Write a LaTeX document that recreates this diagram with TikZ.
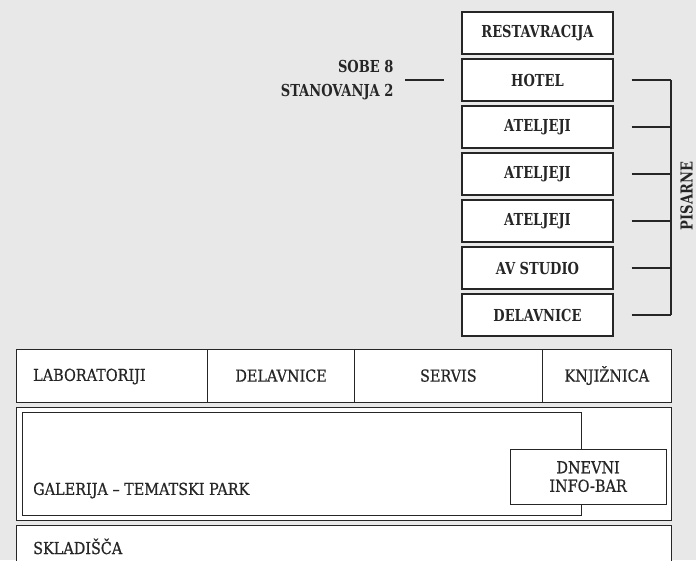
\documentclass[tikz,border=0pt]{standalone}
\usepackage{fontspec}
\setmainfont[FakeStretch=0.88]{DejaVu Serif Condensed}
\newfontfamily\lowfont[FakeStretch=0.97, FakeBold=0.6]{DejaVu Serif Condensed}
\begin{document}
\begin{tikzpicture}[x=1pt,y=-1pt,
  every node/.style={font=\lowfont\fontsize{16.5}{18}\selectfont, text=black!85},
  box/.style={draw=black!85, line width=1.2pt, fill=white, inner sep=0pt},
  topbox/.style={box, minimum width=151pt, minimum height=42pt, font=\fontsize{16.5}{18}\selectfont\bfseries},
  leader/.style={draw=black!85, line width=1.1pt}]
\useasboundingbox (0,0) rectangle (696,560);
\fill[gray!18] (0,0) rectangle (696,560);
\clip (0,0) rectangle (696,560);
% top column
\node[topbox] (rest) at (537.5,33) {RESTAVRACIJA};
\node[topbox] (hotel) at (537.5,80) {HOTEL};
\node[topbox] (at1) at (537.5,127) {ATELJEJI};
\node[topbox] (at2) at (537.5,174) {ATELJEJI};
\node[topbox] (at3) at (537.5,221) {ATELJEJI};
\node[topbox] (av) at (537.5,268) {AV STUDIO};
\node[topbox] (del1) at (537.5,315) {DELAVNICE};
% left label
\node[font=\fontsize{16.5}{23.5}\selectfont\bfseries, align=right, anchor=east] (sobe) at (397,80) {SOBE 8\\STANOVANJA 2};
\coordinate (sl) at (405,80);
\draw[leader] (sl) -- ([xshift=-17pt]hotel.west);
% right bracket
\coordinate (br) at (671,80);
\coordinate (bb) at (671,315);
\foreach \n in {hotel,at1,at2,at3,av,del1}{
  \draw[leader] ([xshift=18pt]\n.east) -- (\n.east -| br);
}
\draw[leader] (br) -- (bb);
\node[rotate=90, inner sep=0pt, font=\fontsize{16.5}{18}\selectfont\bfseries] (pis) at (686.5,196) {PISARNE};
% row 1
\node[box, anchor=north west, minimum width=191pt, minimum height=53pt] (lab) at (16,348.5) {};
\node[anchor=west, inner xsep=0pt] (labt) at (33,376.5) {LABORATORIJI};
\node[box, anchor=north west, minimum width=147pt, minimum height=53pt] (del2) at (207,348.5) {DELAVNICE};
\node[box, anchor=north west, minimum width=187.5pt, minimum height=53pt] (serv) at (354,348.5) {SERVIS};
\node[box, anchor=north west, minimum width=129.5pt, minimum height=53pt] (knj) at (541.5,348.5) {KNJIŽNICA};
% row 2
\node[box, anchor=north west, minimum width=655pt, minimum height=113.5pt] (row2) at (16,406.5) {};
\node[box, anchor=north west, minimum width=559pt, minimum height=103.5pt] (gal) at (21.5,411.5) {};
\node[anchor=west, inner xsep=0pt] (galt) at (33,490.5) {GALERIJA – TEMATSKI PARK};
\node[box, anchor=north west, minimum width=156pt, minimum height=55pt, align=center, font=\lowfont\fontsize{16.5}{18.5}\selectfont] (info) at (509.5,448.5) {DNEVNI\\INFO-BAR};
% row 3
\node[box, anchor=north west, minimum width=655pt, minimum height=50pt] (skl) at (16,525) {};
\node[anchor=west, inner xsep=0pt] (sklt) at (33,546.5) {SKLADIŠČA};
\end{tikzpicture}
\end{document}
